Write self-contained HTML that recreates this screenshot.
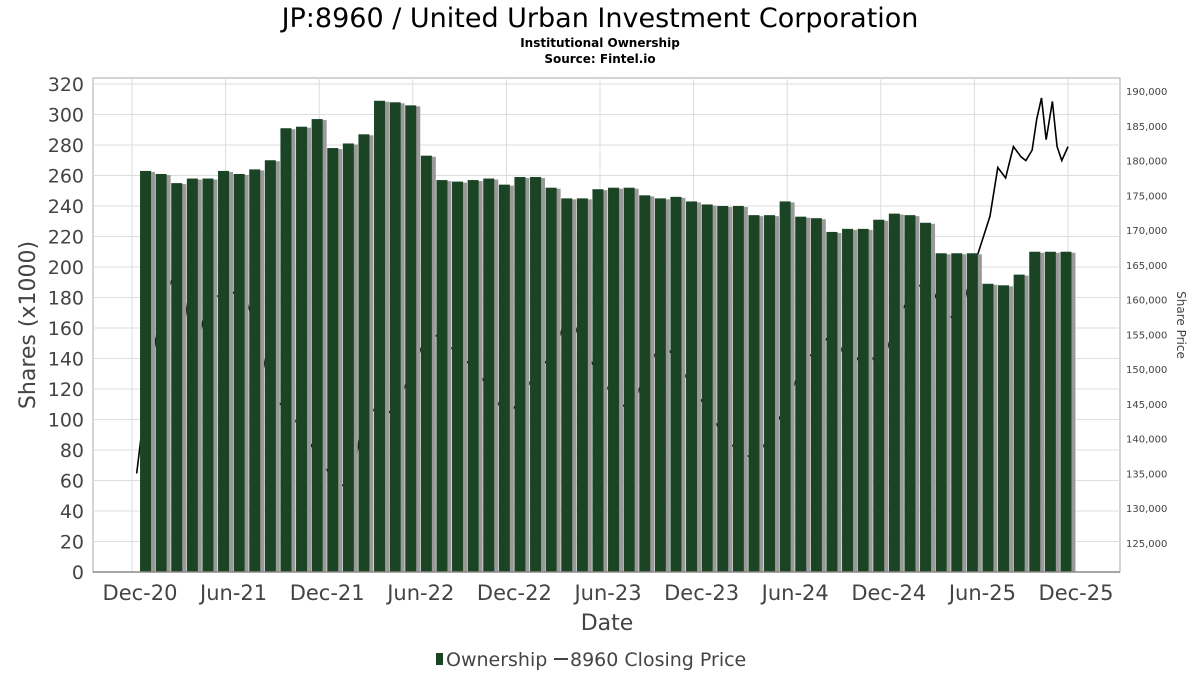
<!DOCTYPE html>
<html><head><meta charset="utf-8"><style>
body{margin:0;background:#fff;width:1200px;height:675px;overflow:hidden;font-family:"DejaVu Sans","Liberation Sans",sans-serif}
</style></head><body>
<svg id="c" width="1200" height="675" xmlns="http://www.w3.org/2000/svg">
<text x="600" y="27" text-anchor="middle" font-size="27" fill="#000">JP:8960 / United Urban Investment Corporation</text>
<text x="600" y="47" text-anchor="middle" font-size="12" font-weight="bold">Institutional Ownership</text>
<text x="600" y="63" text-anchor="middle" font-size="12" font-weight="bold">Source: Fintel.io</text>
<rect x="93" y="78" width="1027" height="494" fill="#fff" stroke="#aaa"/>
<g id="grid"></g><g id="price"></g><g id="bars"></g><g id="axes"></g>
<text x="607" y="630" text-anchor="middle" font-size="22" fill="#444">Date</text>
<text transform="translate(35,325) rotate(-90)" text-anchor="middle" font-size="22" fill="#444">Shares (x1000)</text>
<text transform="translate(1177,325) rotate(90)" text-anchor="middle" font-size="12" fill="#444">Share Price</text>
<g>
<rect x="436" y="653" width="7" height="12" fill="#1a4424"/>
<text x="446" y="666" font-size="19" fill="#444">Ownership</text>
<line x1="554" y1="659" x2="568" y2="659" stroke="#444" stroke-width="2"/>
<text x="570" y="666" font-size="19" fill="#444">8960 Closing Price</text>
</g>
</svg>
<script>
const ownership=[263,261,255,258,258,263,261,264,270,291,292,297,278,281,287,309,308,306,273,257,256,257,258,254,259,259,252,245,245,251,252,252,247,245,246,243,241,240,240,234,234,243,233,232,223,225,225,231,235,234,229,209,209,209,189,188,195,210,210,210];
const priceMonths=[0.3,1,2,3,4,5,6,7,8,9,10,11,12,13,14,15,16,17,18,19,20,21,22,23,24,25,26,27,28,29,30,31,32,33,34,35,36,37,38,39,40,41,42,43,44,45,46,47,48,49,50,51,52,53,54,55,55.5,56,56.5,57,57.3,57.7,58,58.3,58.6,59,59.3,59.6,60];
const priceValues=[135000,148000,160000,165000,152000,161000,160000,162000,155600,146000,144000,141000,137000,134000,132600,145500,142700,145000,150000,155600,154000,152000,150000,147000,143000,146000,150000,152000,158500,152700,149000,145500,144000,150000,154000,151000,147000,144000,140000,138000,137000,141000,145000,151000,153000,155600,150000,153000,150000,157000,161000,163000,158000,157000,165000,172000,179000,177500,182000,180500,180000,181500,186000,189000,183000,188500,182000,180000,182000];
const yTicks=[0,20,40,60,80,100,120,140,160,180,200,220,240,260,280,300,320];
const y2Ticks=[125000,130000,135000,140000,145000,150000,155000,160000,165000,170000,175000,180000,185000,190000];
const xLabels=["Dec-20","Jun-21","Dec-21","Jun-22","Dec-22","Jun-23","Dec-23","Jun-24","Dec-24","Jun-25","Dec-25"];
const NS="http://www.w3.org/2000/svg";
const xm=m=>132+15.6*m;
const y=v=>572-v*(488/320);
const y2=v=>91+(190000-v)*(452/65000);
function mk(t,a,p){const e=document.createElementNS(NS,t);for(const k in a)e.setAttribute(k,a[k]);document.getElementById(p).appendChild(e);return e;}
yTicks.forEach(v=>{
 const l=mk('line',{x1:93,x2:1120,y1:y(v),y2:y(v),stroke:'#ddd'},'grid');
 
 
 const t=mk('text',{x:84,y:y(v)+7,'text-anchor':'end','font-size':19,fill:'#444'},'axes');t.textContent=v;
 
 
});
y2Ticks.forEach(v=>{
 const t=mk('text',{x:1126,y:y2(v)+4,'font-size':10,fill:'#444'},'axes');t.textContent=v.toLocaleString('en-US');
 
 
});
xLabels.forEach((s,i)=>{
 const x=xm(i*6);
 const l=mk('line',{x1:x,x2:x,y1:78,y2:572,stroke:'#ddd'},'grid');
 
 
 const t=mk('text',{x:x+8,y:600,'text-anchor':'middle','font-size':21,fill:'#444'},'axes');t.textContent=s;
 
 
});
const pl=mk('polyline',{points:priceMonths.map((m,i)=>xm(m)+','+y2(priceValues[i])).join(' '),fill:'none',stroke:'#000','stroke-width':1.6},'price');


ownership.forEach((v,i)=>{
 const cx=xm(i+0.9);
 const s=mk('rect',{x:cx-5+3,y:y(v)+1,width:11,height:572-y(v)-1,fill:'#999'},'bars');
 
 
 const b=mk('rect',{x:cx-6,y:y(v),width:11,height:572-y(v),fill:'#1a4424'},'bars');
 
 
});
const ax=mk('line',{x1:93,x2:1120,y1:572,y2:572,stroke:'#888','stroke-width':1.5},'axes');


</script>
</body></html>
